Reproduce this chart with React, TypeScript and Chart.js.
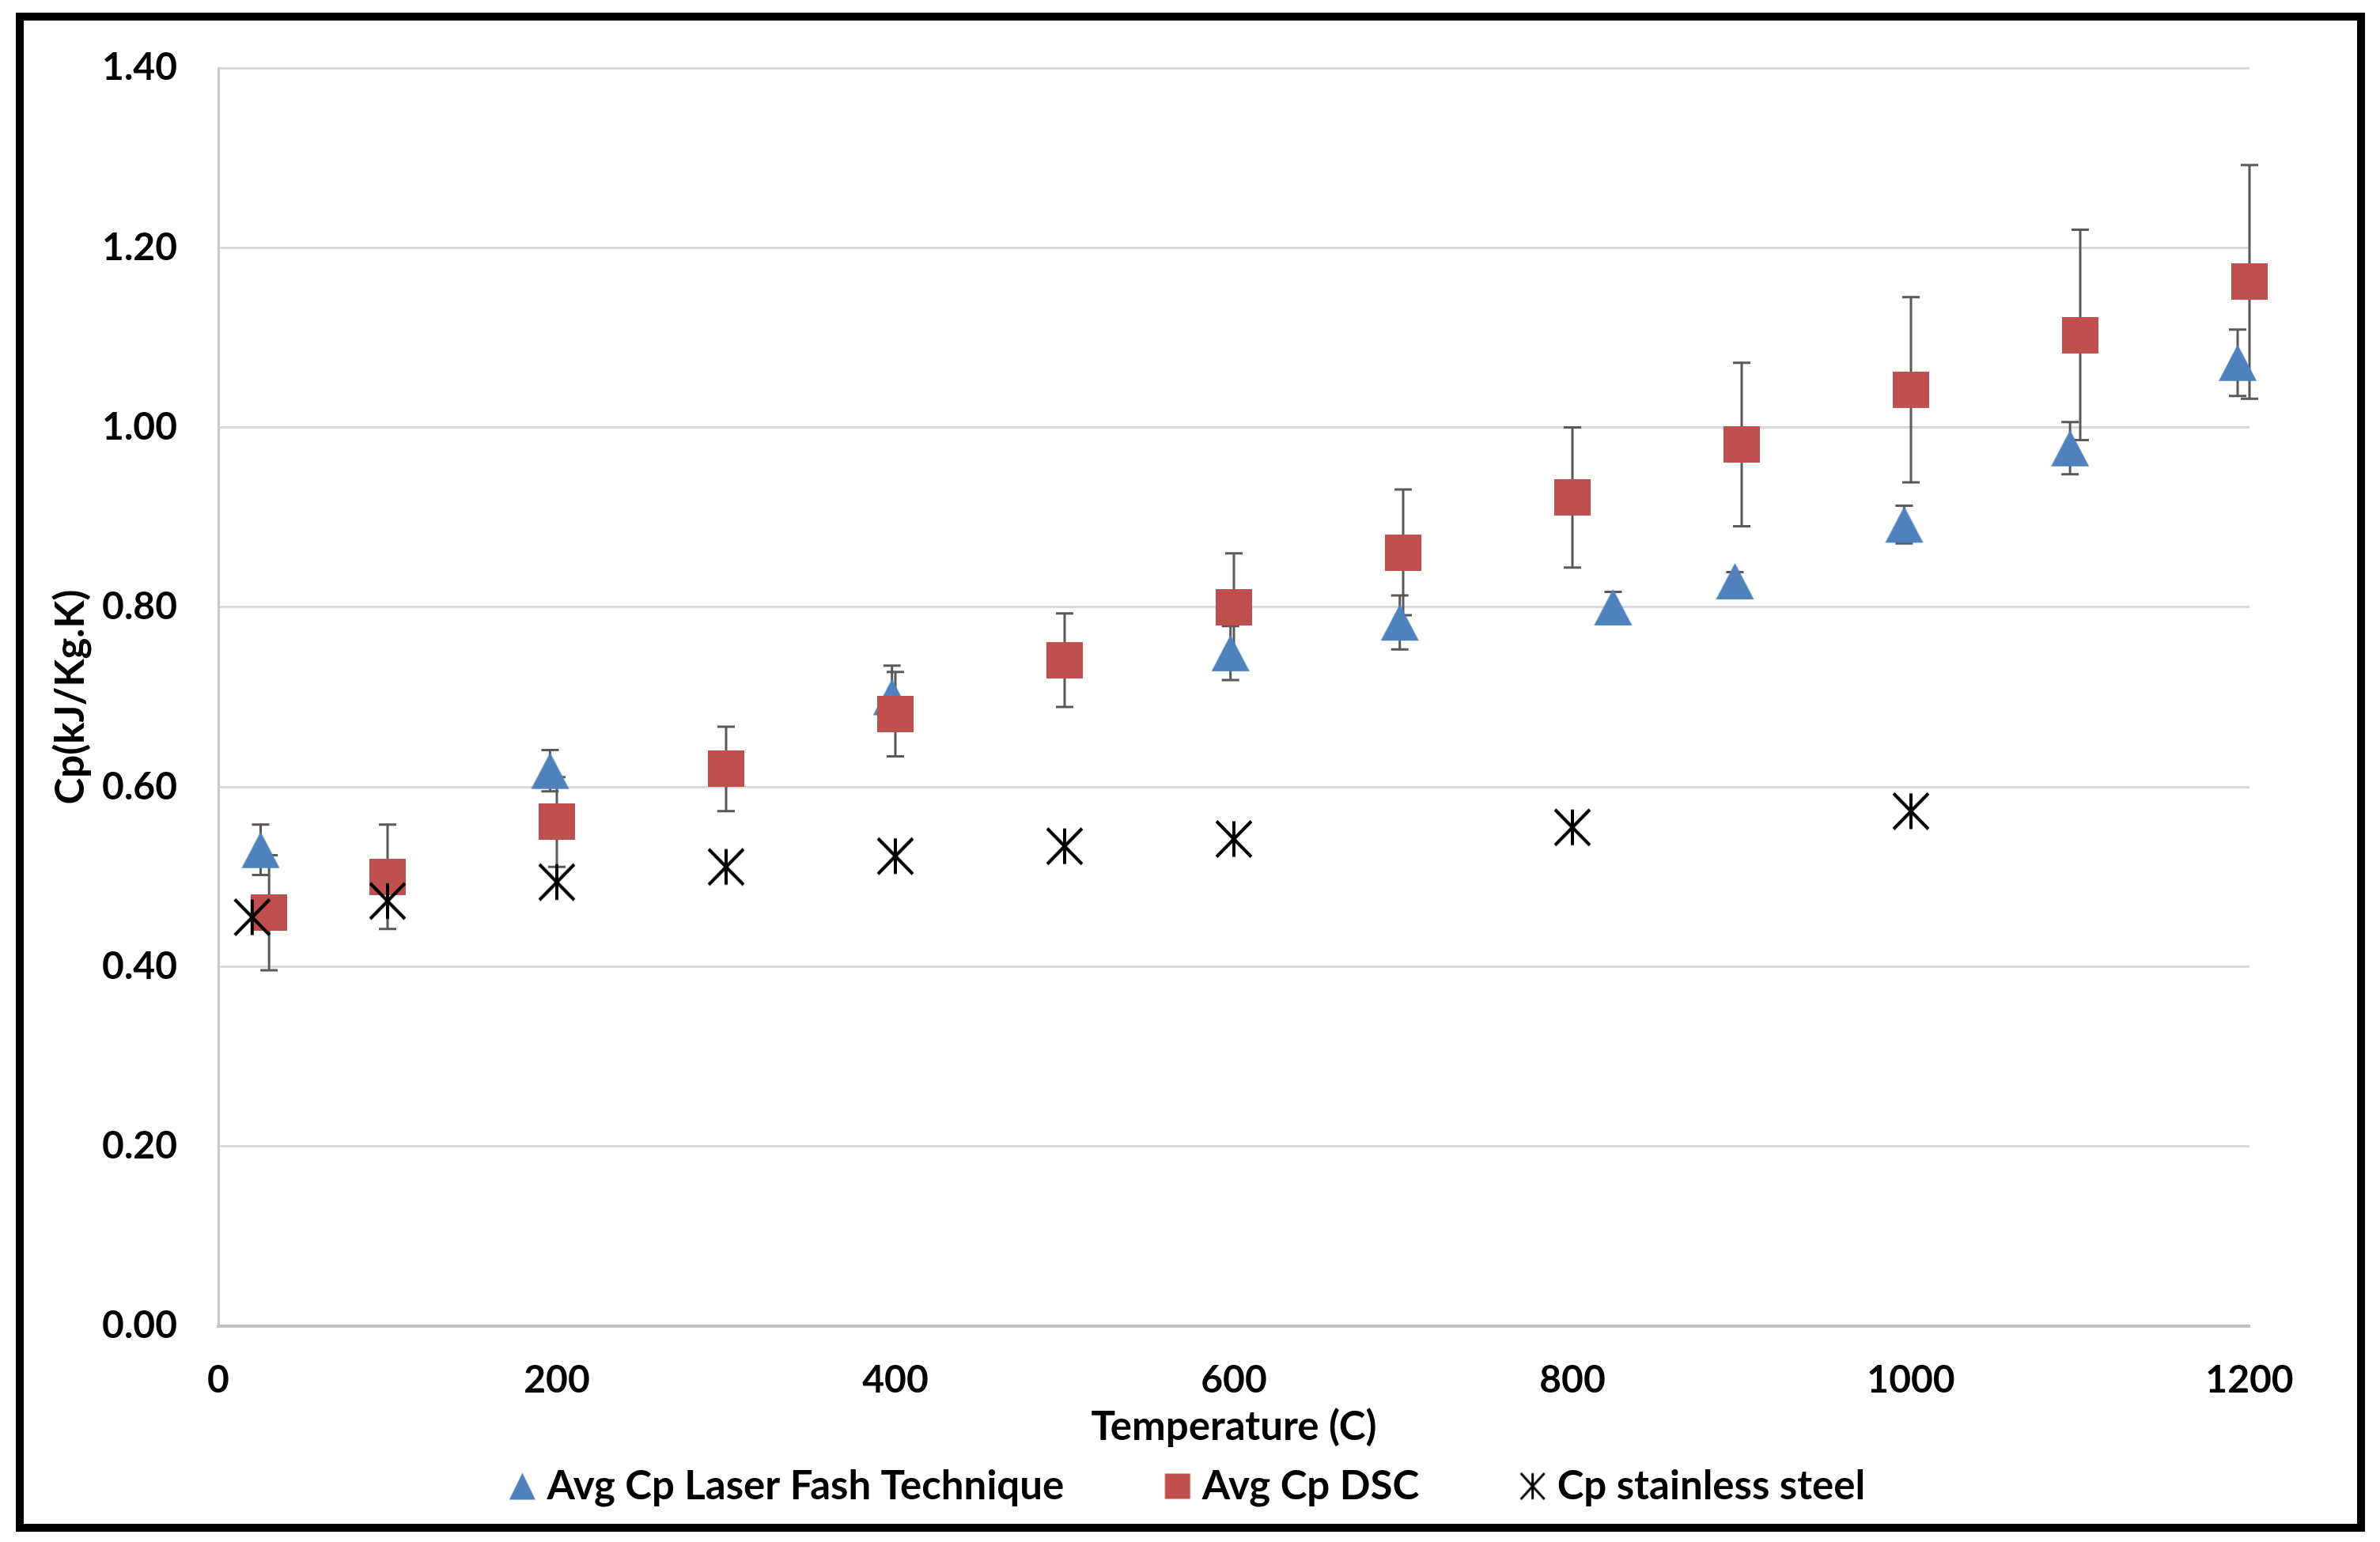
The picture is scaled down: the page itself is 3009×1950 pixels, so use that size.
import React, { useEffect, useRef } from 'react';
import { Chart, registerables } from 'chart.js';

Chart.register(...registerables);

// ---------- data ----------
const seriesNames = ['Avg Cp Laser Fash Technique', 'Avg Cp DSC', 'Cp stainless steel'];

const laserTemps = [25, 196, 398, 598, 698, 824, 896, 996, 1094, 1193];
const laserCp = [0.53, 0.618, 0.7, 0.749, 0.783, 0.8, 0.829, 0.892, 0.977, 1.072];
const laserErr = [0.028, 0.023, 0.035, 0.03, 0.03, 0.017, 0.01, 0.021, 0.029, 0.037];

const dscTemps = [30, 100, 200, 300, 400, 500, 600, 700, 800, 900, 1000, 1100, 1200];
const dscCp = [0.46, 0.5, 0.561, 0.62, 0.681, 0.741, 0.8, 0.861, 0.922, 0.981, 1.042, 1.103, 1.162];
const dscErr = [0.064, 0.058, 0.05, 0.047, 0.047, 0.052, 0.06, 0.07, 0.078, 0.091, 0.103, 0.117, 0.13];

const steelTemps = [20, 100, 200, 300, 400, 500, 600, 800, 1000];
const steelCp = [0.455, 0.473, 0.494, 0.511, 0.523, 0.534, 0.542, 0.555, 0.573];

const xMin = 0;
const xMax = 1200;
const xStep = 200;
const yMin = 0;
const yMax = 1.4;
const yStep = 0.2;

const xTitle = 'Temperature (C)';
const yTitle = 'Cp(kJ/Kg.K)';

const BLUE = '#4f81bd';
const RED = '#c0504d';
const BLACK = '#000000';
const FONT = 'Lato';

// ---------- marker glyphs ----------
// (cw, ch) canvas size; cx marker centre inside the canvas
function triangleImg(cw: number, ch: number, cx: number, w: number, h: number, color: string) {
  const c = document.createElement('canvas');
  c.width = cw;
  c.height = ch;
  const g = c.getContext('2d')!;
  const top = (ch - h) / 2;
  g.fillStyle = color;
  g.beginPath();
  g.moveTo(cx, top);
  g.lineTo(cx + w / 2, top + h);
  g.lineTo(cx - w / 2, top + h);
  g.closePath();
  g.fill();
  return c;
}
function squareImg(cw: number, ch: number, cx: number, s: number, color: string) {
  const c = document.createElement('canvas');
  c.width = cw;
  c.height = ch;
  const g = c.getContext('2d')!;
  g.fillStyle = color;
  g.fillRect(cx - s / 2, (ch - s) / 2, s, s);
  return c;
}
function asteriskImg(cw: number, ch: number, cx: number, w: number, h: number, color: string, lw: number) {
  const c = document.createElement('canvas');
  c.width = cw;
  c.height = ch;
  const g = c.getContext('2d')!;
  g.strokeStyle = color;
  g.lineWidth = lw;
  const l = cx - w / 2;
  const r = cx + w / 2;
  const t = (ch - h) / 2;
  const b = t + h;
  g.beginPath();
  g.moveTo(cx, t);
  g.lineTo(cx, b);
  g.moveTo(l, t);
  g.lineTo(r, b);
  g.moveTo(r, t);
  g.lineTo(l, b);
  g.stroke();
  return c;
}

const errorSets: Record<number, number[]> = { 0: laserErr, 1: dscErr };

const errorBarPlugin = {
  id: 'errorBars',
  beforeDatasetsDraw(chart: any) {
    const { ctx, scales } = chart;
    const xs = scales.x;
    const ys = scales.y;
    ctx.save();
    ctx.strokeStyle = '#595959';
    ctx.lineWidth = 3;
    const cap = 11;
    chart.data.datasets.forEach((ds: any, di: number) => {
      const errs = errorSets[di];
      if (!errs) return;
      ds.data.forEach((p: any, i: number) => {
        const e = errs[i];
        const px = xs.getPixelForValue(p.x);
        const top = ys.getPixelForValue(p.y + e);
        const bot = ys.getPixelForValue(p.y - e);
        ctx.beginPath();
        ctx.moveTo(px, top);
        ctx.lineTo(px, bot);
        ctx.moveTo(px - cap, top);
        ctx.lineTo(px + cap, top);
        ctx.moveTo(px - cap, bot);
        ctx.lineTo(px + cap, bot);
        ctx.stroke();
      });
    });
    ctx.restore();
  },
};

export default function App() {
  const ref = useRef<HTMLCanvasElement>(null);

  useEffect(() => {
    if (!ref.current) return;
    const markers = [
      triangleImg(50, 48, 25, 48, 46, BLUE),
      squareImg(46, 46, 23, 46, RED),
      asteriskImg(48, 50, 24, 44, 45, BLACK, 4),
    ];
    // legend glyphs: marker placed right of the box centre so the legend box adds space before it
    const LW = 98;
    const LC = 80.5;
    const legendMarkers = [
      triangleImg(LW, 40, LC, 33, 34, BLUE),
      squareImg(LW, 40, LC, 32, RED),
      asteriskImg(LW, 40, LC, 30, 33, BLACK, 3),
    ];

    const toPts = (xs: number[], ys: number[]) => xs.map((x, i) => ({ x, y: ys[i] }));
    const tickFont = { family: FONT, size: 48, weight: 'bold' };
    const titleFont = { family: FONT, size: 51, weight: 'bold' };

    const chart = new Chart(ref.current, {
      type: 'scatter',
      data: {
        datasets: [
          {
            label: seriesNames[0],
            data: toPts(laserTemps, laserCp),
            pointStyle: markers[0] as any,
            pointRadius: 24,
            backgroundColor: BLUE,
            borderColor: BLUE,
            clip: false as any,
            order: 3,
          },
          {
            label: seriesNames[1],
            data: toPts(dscTemps, dscCp),
            pointStyle: markers[1] as any,
            pointRadius: 24,
            backgroundColor: RED,
            borderColor: RED,
            clip: false as any,
            order: 2,
          },
          {
            label: seriesNames[2],
            data: toPts(steelTemps, steelCp),
            pointStyle: markers[2] as any,
            pointRadius: 24,
            backgroundColor: BLACK,
            borderColor: BLACK,
            clip: false as any,
            order: 1,
          },
        ],
      },
      options: {
        responsive: false,
        animation: false,
        events: [],
        layout: { padding: { left: 106, right: 165, top: 86, bottom: 35 } },
        scales: {
          x: {
            type: 'linear',
            min: xMin,
            max: xMax,
            ticks: {
              stepSize: xStep,
              padding: 40,
              color: '#000',
              font: tickFont,
              maxRotation: 0,
              callback: (v: any) => String(v),
            },
            grid: { display: false, drawTicks: false },
            border: { display: true, color: '#bfbfbf', width: 4 },
            title: {
              display: true,
              text: xTitle,
              color: '#000',
              font: titleFont,
              padding: { top: 0, bottom: -56 },
            },
            afterFit: (scale: any) => {
              scale.height = 102;
            },
          },
          y: {
            type: 'linear',
            min: yMin,
            max: yMax,
            ticks: {
              stepSize: yStep,
              padding: 52,
              color: '#000',
              font: tickFont,
              callback: (v: any) => Number(v).toFixed(2),
            },
            grid: { color: '#d9d9d9', lineWidth: 3, drawTicks: false },
            border: { display: true, color: '#c8c8c8', width: 3 },
            title: {
              display: true,
              text: yTitle,
              color: '#000',
              font: titleFont,
              padding: { top: -47, bottom: 0 },
            },
            afterFit: (scale: any) => {
              scale.width = 170;
            },
          },
        },
        plugins: {
          tooltip: { enabled: false },
          legend: {
            display: true,
            position: 'bottom',
            labels: {
              usePointStyle: true,
              boxWidth: 74,
              pointStyleWidth: 74,
              padding: 75,
              color: '#000',
              font: titleFont,
              generateLabels: (ch: any) => {
                const items = (Chart.defaults.plugins.legend.labels as any).generateLabels(ch);
                items.sort((a: any, b: any) => a.datasetIndex - b.datasetIndex);
                items.forEach((it: any) => {
                  it.pointStyle = legendMarkers[it.datasetIndex];
                  it.fontColor = '#000';
                });
                return items;
              },
            },
          },
        },
      } as any,
      plugins: [errorBarPlugin],
    });
    return () => chart.destroy();
  }, []);

  return (
    <div style={{ position: 'absolute', left: 0, top: 0, width: 3009, height: 1950, background: '#fff' }}>
      <canvas
        ref={ref}
        width={3009}
        height={1950}
        style={{ position: 'absolute', left: 0, top: 0, width: 3009, height: 1950 }}
      />
      <div
        style={{
          position: 'absolute',
          left: 20,
          top: 16,
          width: 2970,
          height: 1921,
          border: '10px solid #000',
          boxSizing: 'border-box',
          pointerEvents: 'none',
        }}
      />
    </div>
  );
}
